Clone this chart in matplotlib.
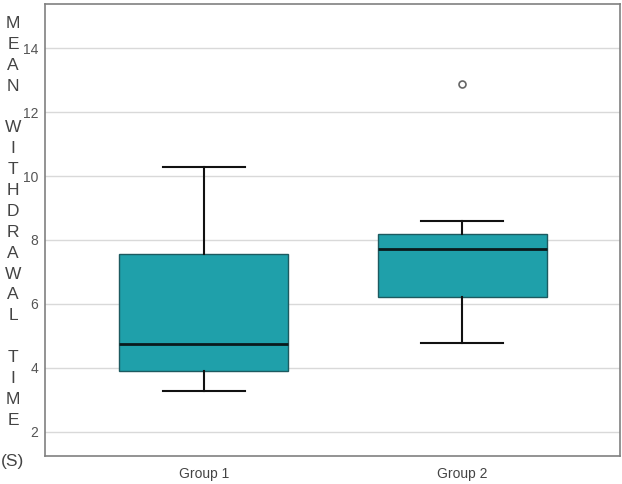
import matplotlib
matplotlib.use("Agg")
import matplotlib.pyplot as plt

plt.rcParams["font.family"] = ["Liberation Sans", "DejaVu Sans"]

# values
groups = ["Group 1", "Group 2"]
whisker_low = [3.28, 4.78]
q1 = [3.90, 6.22]
median = [4.75, 7.72]
q3 = [7.56, 8.19]
whisker_high = [10.28, 8.60]
outliers = [[], [12.88]]

y_ticks = [2, 4, 6, 8, 10, 12, 14]
y_label = "MEAN WITHDRAWAL TIME (S)"

stats = []
for i, g in enumerate(groups):
    stats.append({
        "label": g,
        "whislo": whisker_low[i],
        "q1": q1[i],
        "med": median[i],
        "q3": q3[i],
        "whishi": whisker_high[i],
        "fliers": outliers[i],
    })

fig = plt.figure(figsize=(6.22, 4.84), dpi=100)
ax = fig.add_axes([0.0723, 0.0579, 0.9245, 0.9338])

ax.bxp(stats, positions=[1, 2], widths=0.655, capwidths=0.32,
       patch_artist=True, zorder=3,
       boxprops=dict(facecolor="#1fa0aa", edgecolor="#1d5a60", linewidth=1.0),
       medianprops=dict(color="#0a1a1c", linewidth=2.0),
       whiskerprops=dict(color="#111111", linewidth=1.5),
       capprops=dict(color="#111111", linewidth=1.5),
       flierprops=dict(marker="o", markersize=5, markerfacecolor="white",
                       markeredgecolor="#666666", markeredgewidth=1.2))

ax.set_xlim(0.384, 2.612)
ax.set_ylim(1.25, 15.375)
ax.set_yticks(y_ticks)
ax.yaxis.grid(True, color="#d9d9d9", linewidth=1.0, zorder=0)
ax.set_axisbelow(True)
ax.tick_params(axis="both", length=0, labelsize=10, colors="#555555")
ax.tick_params(axis="y", pad=5)
ax.tick_params(axis="x", pad=8, colors="#444444")
for s in ax.spines.values():
    s.set_color("#808080")
    s.set_linewidth(1.2)

# stacked vertical label, one letter per line, blank line between words
lines = []
for word in y_label.split(" "):
    if word.startswith("("):
        lines.append(word)
    else:
        lines.extend(list(word))
    lines.append("")
lines = lines[:-1]
fig.text(13 / 622, 1 - 16 / 484, "\n".join(lines), ha="center", va="top",
         fontsize=12.5, color="#444444", linespacing=1.49)

fig.savefig("out.png", dpi=100)
